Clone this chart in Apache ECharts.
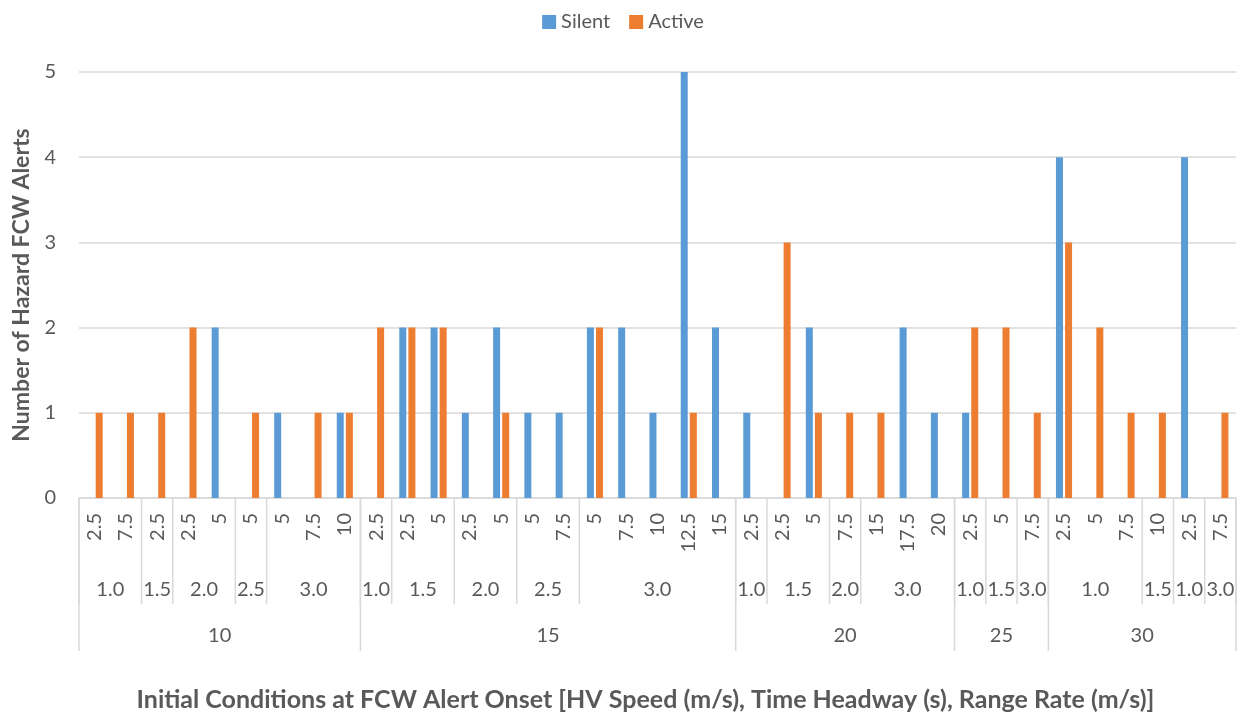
<!DOCTYPE html>
<html>
<head>
<meta charset="utf-8">
<script src="https://cdn.jsdelivr.net/npm/echarts@6/dist/echarts.min.js"></script>
<style>html,body{margin:0;padding:0;background:#fff}#c{width:1246px;height:717px}</style>
</head>
<body>
<div id="c"></div>
<script>
const leafLabels = ['2.5','7.5','2.5','2.5','5','5','5','7.5','10','2.5','2.5','5','2.5','5','5','7.5','5','7.5','10','12.5','15','2.5','2.5','5','7.5','15','17.5','20','2.5','5','7.5','2.5','5','7.5','10','2.5','7.5'];
const silent = [0,0,0,0,2,0,1,0,1,0,2,2,1,2,1,1,2,2,1,5,2,1,0,2,0,0,2,1,1,0,0,4,0,0,0,4,0];
const active = [1,1,1,2,0,1,0,1,1,2,2,2,0,1,0,0,2,0,0,1,0,0,3,1,1,1,0,0,2,2,1,3,2,1,1,0,1];
const headwayLabels = ['1.0','1.5','2.0','2.5','3.0','1.0','1.5','2.0','2.5','3.0','1.0','1.5','2.0','3.0','1.0','1.5','3.0','1.0','1.5','1.0','3.0'];
const headwaySpans = [2,1,2,1,3,1,2,2,2,5,1,2,1,3,1,1,1,3,1,1,1];
const speedLabels = ['10','15','20','25','30'];
const speedSpans = [9,12,7,3,6];
const yTicks = [0,1,2,3,4,5];

const FONT = 'Lato';
const TXT = '#595959';
const LINE = '#d9d9d9';

function groupData(spans) {
  const out = [];
  let s = 0;
  spans.forEach(n => { out.push([s, 0, s + n]); s += n; });
  return out;
}

function makeGroupRender(labels, lineLen, textOffset) {
  return function (params, api) {
    const start = api.value(0);
    const end = api.value(2);
    const bw = api.size([1, 0])[0];
    const p0 = api.coord([start, 0]);
    const p1 = api.coord([end - 1, 0]);
    const x0 = p0[0] - bw / 2;
    const x1 = p1[0] + bw / 2;
    const y0 = p0[1];
    const children = [
      { type: 'line', shape: { x1: x0, y1: y0, x2: x0, y2: y0 + lineLen }, style: { stroke: LINE, lineWidth: 1.5 } },
      { type: 'text', style: { text: labels[params.dataIndex], x: (x0 + x1) / 2, y: y0 + textOffset, align: 'center', verticalAlign: 'middle', fontSize: 20, fontFamily: FONT, fill: TXT } }
    ];
    if (params.dataIndex === labels.length - 1) {
      children.push({ type: 'line', shape: { x1: x1, y1: y0, x2: x1, y2: y0 + lineLen }, style: { stroke: LINE, lineWidth: 1.5 } });
    }
    return { type: 'group', children: children };
  };
}

const chart = echarts.init(document.getElementById('c'));
chart.setOption({
  animation: false,
  textStyle: { fontFamily: FONT },
  legend: {
    data: ['Silent', 'Active'],
    top: 7,
    left: 'center',
    icon: 'rect',
    itemWidth: 14,
    itemHeight: 14,
    itemGap: 19,
    textStyle: { fontSize: 20, color: TXT, fontFamily: FONT }
  },
  grid: { left: 79, right: 10, top: 72, bottom: 217.5, containLabel: false },
  xAxis: {
    type: 'category',
    data: leafLabels,
    boundaryGap: true,
    axisLine: { lineStyle: { color: LINE, width: 1.5 } },
    axisTick: { show: false },
    axisLabel: { interval: 0, rotate: 90, margin: 15, fontSize: 20, color: TXT, fontFamily: FONT },
    name: 'Initial Conditions at FCW Alert Onset [HV Speed (m/s), Time Headway (s), Range Rate (m/s)]',
    nameLocation: 'middle',
    nameGap: 189,
    nameTextStyle: { fontSize: 25, fontWeight: 'bold', color: TXT, fontFamily: FONT, padding: [0, 24, 0, 0] }
  },
  yAxis: {
    type: 'value',
    min: yTicks[0],
    max: yTicks[yTicks.length - 1],
    interval: 1,
    axisLine: { show: false },
    axisTick: { show: false },
    splitLine: { lineStyle: { color: LINE, width: 1.5 } },
    axisLabel: { margin: 23, fontSize: 20, color: TXT, fontFamily: FONT },
    name: 'Number of Hazard FCW Alerts',
    nameLocation: 'middle',
    nameGap: 44,
    nameTextStyle: { fontSize: 23, fontWeight: 'bold', color: TXT, fontFamily: FONT }
  },
  series: [
    { name: 'Silent', type: 'bar', data: silent, barWidth: 7, barGap: '30%', itemStyle: { color: '#5B9BD5' } },
    { name: 'Active', type: 'bar', data: active, barWidth: 7, barGap: '30%', itemStyle: { color: '#ED7D31' } },
    {
      type: 'custom', name: 'headway', coordinateSystem: 'cartesian2d', clip: false, silent: true,
      encode: { x: 0, y: 1 },
      data: groupData(headwaySpans),
      renderItem: makeGroupRender(headwayLabels, 106, 92)
    },
    {
      type: 'custom', name: 'speed', coordinateSystem: 'cartesian2d', clip: false, silent: true,
      encode: { x: 0, y: 1 },
      data: groupData(speedSpans),
      renderItem: makeGroupRender(speedLabels, 153, 138)
    }
  ]
});
</script>
</body>
</html>
